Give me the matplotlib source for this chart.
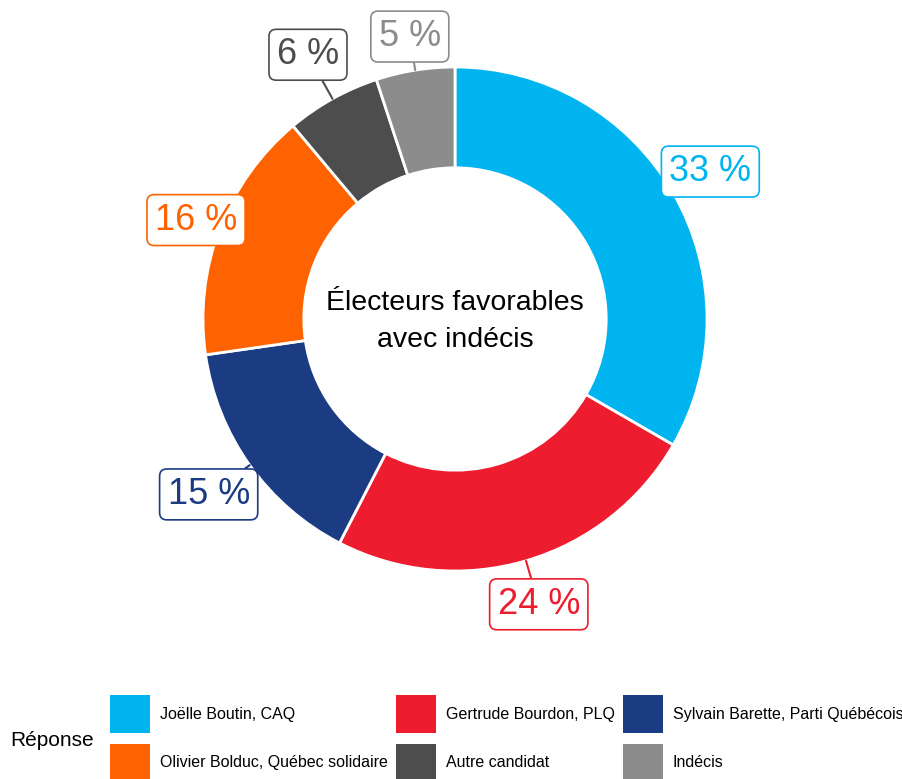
import numpy as np
import matplotlib
matplotlib.use("Agg")
import matplotlib.pyplot as plt
from matplotlib.patches import Patch

plt.rcParams['font.family'] = ['Liberation Sans', 'DejaVu Sans']

# données du sondage
candidats = ["Joëlle Boutin, CAQ", "Gertrude Bourdon, PLQ", "Sylvain Barette, Parti Québécois",
             "Olivier Bolduc, Québec solidaire", "Autre candidat", "Indécis"]
pourcent = [33, 24, 15, 16, 6, 5]
couleurs = ["#00B4F0", "#ED1C2E", "#1B3C83", "#FF6200", "#4D4D4D", "#8C8C8C"]
titre_centre = "Électeurs favorables\navec indécis"
titre_legende = "Réponse"

# distance radiale des étiquettes (repoussées comme ggrepel)
dist_etiq = [1.17, 1.18, 1.20, 1.10, 1.20, 1.135]

W, H = 903, 779
fig = plt.figure(figsize=(W / 100, H / 100), dpi=100)
ax = fig.add_axes([0, 0, 1, 1])

# centre du beigne en pixels, rayon extérieur
cx, cy, R = 455, 319, 252

wedges, _ = ax.pie(pourcent, colors=couleurs, startangle=90, counterclock=False, radius=1.0,
                   wedgeprops=dict(width=0.4, edgecolor='white', linewidth=2))
ax.set_aspect('auto')
ax.set_xlim(-cx / R, (W - cx) / R)
ax.set_ylim(-(H - cy) / R, cy / R)
ax.axis('off')

# étiquettes autour du beigne
tot = sum(pourcent)
cum = np.cumsum([0] + pourcent)
for i, (v, c) in enumerate(zip(pourcent, couleurs)):
    mid = (cum[i] + v / 2) / tot * 2 * np.pi  # sens horaire depuis le haut
    sx, sy = np.sin(mid), np.cos(mid)
    r = dist_etiq[i]
    ax.annotate("{} %".format(v), xy=(sx, sy), xytext=(r * sx, r * sy),
                ha='center', va='center', fontsize=26, color=c, zorder=5,
                bbox=dict(boxstyle='round,pad=0.22,rounding_size=0.2', fc='white', ec=c, lw=1.2),
                arrowprops=dict(arrowstyle='-', color=c, lw=1.5, shrinkA=0, shrinkB=0))

ax.text(0, -0.01, titre_centre, ha='center', va='center', fontsize=20.5, linespacing=1.55)

# légende : ordre par rangée, 3 colonnes
handles = [Patch(facecolor=c, edgecolor='none') for c in couleurs]
ordre = [0, 3, 1, 4, 2, 5]
fig.legend([handles[k] for k in ordre], [candidats[k] for k in ordre], ncol=3,
           loc='lower left', bbox_to_anchor=(110 / W, -3 / H), frameon=False,
           fontsize=11.5, handlelength=2.5, handleheight=3.3, handletextpad=0.6,
           columnspacing=0.55, labelspacing=0.65, borderpad=0, borderaxespad=0)
fig.text(10 / W, (H - 740) / H, titre_legende, fontsize=15, ha='left', va='center')

fig.savefig("out.png", dpi=100)
